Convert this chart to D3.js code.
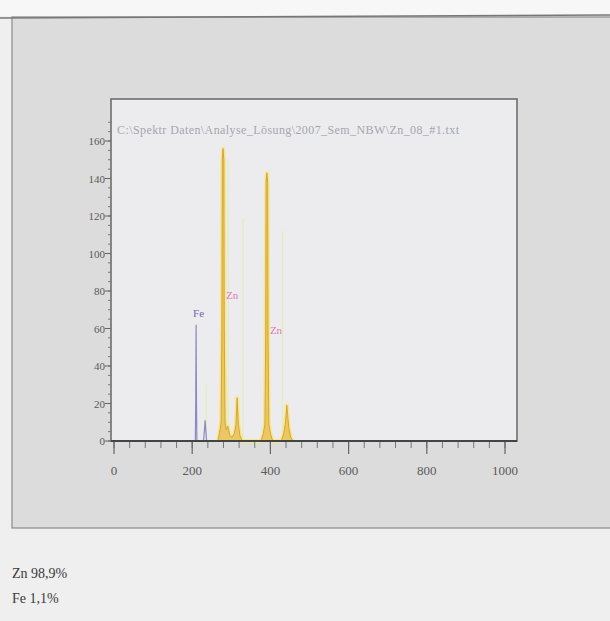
<!DOCTYPE html>
<html>
<head>
<meta charset="utf-8">
<script src="https://cdn.jsdelivr.net/npm/d3@7"></script>
<style>
  body { margin: 0; background: #f1f1f1; }
  svg { display: block; }
</style>
</head>
<body>
<div id="chart"></div>
<script>
const width = 610;
const height = 621;

// x ticks / y ticks
const xTicks = [0, 200, 400, 600, 800, 1000];
const yTicks = [0, 20, 40, 60, 80, 100, 120, 140, 160];

// Zn spectrum (channel, counts)
const znChannel = [266, 271, 274, 276, 277, 279, 281, 282, 284, 287, 291, 296, 302, 308, 312, 315, 318, 322, 328,
  376, 382, 386, 388, 389, 391, 393, 394, 396, 400, 406, 428, 434, 438, 441, 442, 444, 447, 452, 458];
const znCounts = [0, 6, 10, 60, 150, 156, 150, 60, 10, 6, 8, 3, 2, 4, 9, 23, 9, 3, 0,
  0, 4, 9, 55, 138, 143, 138, 55, 9, 4, 0, 0, 4, 9, 16, 19, 14, 7, 2, 0];

// Fe line and small peak
const feChannel = [208, 209, 210, 211, 212, 229, 231, 233, 235, 237];
const feCounts = [0, 20, 62, 20, 0, 0, 5, 11, 5, 0];

// element markers
const markerElem = ["Fe", "Zn", "Zn"];
const markerChannel = [210, 279, 391];
const markerLabelY = [66, 76, 57];

// faint KLM lines
const klmChannel = [292, 330, 431, 236];
const klmTop = [150, 119, 112, 30];

const resultLines = ["Zn 98,9%", "Fe 1,1%"];
const fileName = "C:\\Spektr Daten\\Analyse_Lösung\\2007_Sem_NBW\\Zn_08_#1.txt";

const svg = d3
  .select("#chart")
  .append("svg")
  .attr("width", width)
  .attr("height", height);

// page / scanned panel
svg.append("rect").attr("x", 0).attr("y", 0).attr("width", width).attr("height", height).attr("fill", "#efefef");
svg.append("rect").attr("x", 0).attr("y", 0).attr("width", width).attr("height", 16).attr("fill", "#f7f7f7");
svg.append("rect")
  .attr("x", 12).attr("y", 17).attr("width", 610).attr("height", 511)
  .attr("fill", "#dcdcdc").attr("stroke", "#8a8a8a").attr("stroke-width", 1.2);
svg.append("line")
  .attr("x1", 0).attr("y1", 18).attr("x2", width).attr("y2", 15)
  .attr("stroke", "#777").attr("stroke-width", 1.5);

const x = d3.scaleLinear().domain([0, 1000]).range([114, 505]);
const y = d3.scaleLinear().domain([0, 160]).range([441, 141]);

// plot box
svg.append("rect")
  .attr("x", 111).attr("y", 99).attr("width", 406).attr("height", 342)
  .attr("fill", "#ececee").attr("stroke", "#6e6e6e").attr("stroke-width", 1.6);

svg.append("text")
  .attr("x", 117).attr("y", 134)
  .attr("font-family", "Liberation Serif, serif")
  .attr("font-size", 12)
  .attr("textLength", 342)
  .attr("fill", "#a6a6ae")
  .text(fileName);

// faint marker lines
svg.append("g").selectAll("line")
  .data(klmChannel)
  .join("line")
  .attr("x1", (d) => x(d)).attr("x2", (d) => x(d))
  .attr("y1", y(0)).attr("y2", (d, i) => y(klmTop[i]))
  .attr("stroke", "#e4ecb8").attr("stroke-width", 1.2);

const zn = znChannel.map((c, i) => [c, znCounts[i]]);
const fe = feChannel.map((c, i) => [c, feCounts[i]]);

const area = d3.area().x((d) => x(d[0])).y0(y(0)).y1((d) => y(d[1]));
const line = d3.line().x((d) => x(d[0])).y((d) => y(d[1]));

// Zn: halo + body
svg.append("path").datum(zn).attr("d", line)
  .attr("fill", "none").attr("stroke", "#f6e890").attr("stroke-width", 4).attr("stroke-linejoin", "round");
svg.append("path").datum(zn).attr("d", area).attr("fill", "#eac455").attr("opacity", 0.9);
svg.append("path").datum(zn).attr("d", line)
  .attr("fill", "none").attr("stroke", "#d6a440").attr("stroke-width", 1);

// Fe
svg.append("path").datum(fe).attr("d", line)
  .attr("fill", "none").attr("stroke", "#8a8ac4").attr("stroke-width", 1.2);

// axes
const xAxis = svg.append("g").attr("transform", `translate(0,${y(0)})`);
xAxis.append("line")
  .attr("x1", 111).attr("x2", 517).attr("stroke", "#444").attr("stroke-width", 2);
xAxis.selectAll(".minor")
  .data(d3.range(0, 1001, 40))
  .join("line")
  .attr("x1", (d) => x(d)).attr("x2", (d) => x(d))
  .attr("y1", 1).attr("y2", 7)
  .attr("stroke", "#777").attr("stroke-width", 1);
xAxis.selectAll(".major")
  .data(xTicks)
  .join("line")
  .attr("x1", (d) => x(d)).attr("x2", (d) => x(d))
  .attr("y1", 1).attr("y2", 13)
  .attr("stroke", "#666").attr("stroke-width", 1.2);
xAxis.selectAll("text")
  .data(xTicks)
  .join("text")
  .attr("x", (d) => x(d)).attr("y", 34)
  .attr("text-anchor", "middle")
  .attr("font-family", "Liberation Serif, serif")
  .attr("font-size", 13)
  .attr("fill", "#5a5a5a")
  .text((d) => d);

const yAxis = svg.append("g").attr("transform", "translate(111,0)");
yAxis.selectAll(".minor")
  .data(d3.range(0, 171, 5))
  .join("line")
  .attr("x1", -3).attr("x2", 0)
  .attr("y1", (d) => y(d)).attr("y2", (d) => y(d))
  .attr("stroke", "#777");
yAxis.selectAll(".major")
  .data(yTicks)
  .join("line")
  .attr("x1", -6).attr("x2", 0)
  .attr("y1", (d) => y(d)).attr("y2", (d) => y(d))
  .attr("stroke", "#666");
yAxis.selectAll("text")
  .data(yTicks)
  .join("text")
  .attr("x", -6).attr("y", (d) => y(d) + 4)
  .attr("text-anchor", "end")
  .attr("font-family", "Liberation Serif, serif")
  .attr("font-size", 11)
  .attr("fill", "#5a5a5a")
  .text((d) => d);

// element labels
svg.append("g").selectAll("text")
  .data(markerElem)
  .join("text")
  .attr("x", (d, i) => x(markerChannel[i]) + (i === 0 ? -3 : 3))
  .attr("y", (d, i) => y(markerLabelY[i]))
  .attr("font-family", "Liberation Serif, serif")
  .attr("font-size", 11)
  .attr("fill", (d) => (d === "Fe" ? "#6a6ab8" : "#e07ab4"))
  .text((d) => d);

// results under the chart
svg.append("g").selectAll("text")
  .data(resultLines)
  .join("text")
  .attr("x", 12).attr("y", (d, i) => 578 + i * 25)
  .attr("font-family", "Liberation Serif, serif")
  .attr("font-size", 14)
  .attr("fill", "#3a3a3a")
  .text((d) => d);
</script>
</body>
</html>
